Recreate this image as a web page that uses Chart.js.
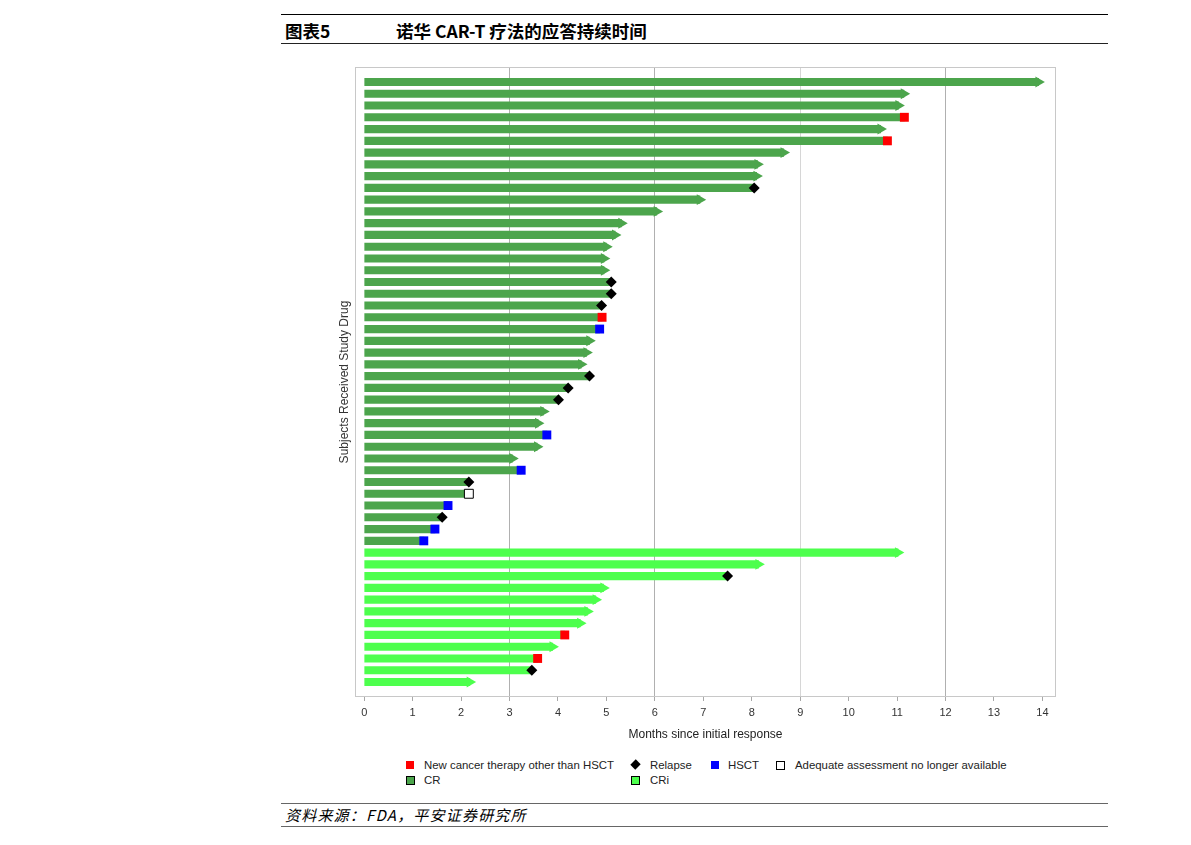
<!DOCTYPE html>
<html>
<head>
<meta charset="utf-8">
<script src="https://cdn.jsdelivr.net/npm/chart.js@4.4.1/dist/chart.umd.min.js"></script>
<style>
html,body{margin:0;padding:0;background:#fff;}
body{width:1191px;height:845px;position:relative;overflow:hidden;font-family:"Liberation Sans",Arial,sans-serif;}
.hline{position:absolute;left:281px;width:827px;height:0;}
.t{position:absolute;white-space:nowrap;}
.hd{font-family:"Noto Sans CJK SC",sans-serif;font-weight:bold;font-size:17.5px;line-height:24px;top:19px;color:#000;}
.src{font-family:"Noto Sans CJK SC",sans-serif;font-style:italic;font-size:15px;letter-spacing:1.2px;line-height:20px;top:805px;left:285px;color:#000;}
.lg{font-size:11.4px;line-height:14px;color:#222;}
.mk{position:absolute;box-sizing:border-box;}
#wrap{position:absolute;left:300px;top:55px;width:780px;height:700px;}
</style>
</head>
<body>
<div class="hline" style="top:14px;border-top:1px solid #000;"></div>
<div class="t hd" style="left:285px;">图表5</div>
<div class="t hd" style="left:396px;">诺华 CAR-T 疗法的应答持续时间</div>
<div class="hline" style="top:43px;border-top:1px solid #222;"></div>

<div id="wrap"><canvas id="c" width="780" height="700" style="width:780px;height:700px;"></canvas></div>

<!-- legend -->
<div class="mk" style="left:406px;top:761px;width:8px;height:8px;background:#ff0000;"></div>
<div class="t lg" style="left:424px;top:758px;">New cancer therapy other than HSCT</div>
<div class="mk" style="left:632px;top:761px;width:7px;height:7px;background:#000;transform:rotate(45deg) scaleY(1.1);"></div>
<div class="t lg" style="left:650px;top:758px;">Relapse</div>
<div class="mk" style="left:711px;top:761px;width:8px;height:8px;background:#0000ff;"></div>
<div class="t lg" style="left:728px;top:758px;">HSCT</div>
<div class="mk" style="left:776px;top:761px;width:9px;height:9px;background:#fff;border:1px solid #000;"></div>
<div class="t lg" style="left:795px;top:758px;">Adequate assessment no longer available</div>
<div class="mk" style="left:406px;top:776px;width:9px;height:9px;background:#4ca54c;border:1px solid #000;"></div>
<div class="t lg" style="left:424px;top:773px;">CR</div>
<div class="mk" style="left:631px;top:776px;width:9px;height:9px;background:#4dff4d;border:1px solid #000;"></div>
<div class="t lg" style="left:650px;top:773px;">CRi</div>

<div class="hline" style="top:803px;border-top:1.5px solid #666;"></div>
<div class="t src">资料来源：FDA，平安证券研究所</div>
<div class="hline" style="top:826px;border-top:1.5px solid #666;"></div>

<script>
// ---- data (months since initial response) ----
const xTicks = [0,1,2,3,4,5,6,7,8,9,10,11,12,13,14];

// CR subjects (top to bottom)
const crMonths = [13.92, 11.14, 11.03, 11.15, 10.66, 10.80, 8.66, 8.12, 8.10, 8.05,
                  6.93, 6.04, 5.31, 5.18, 5.00, 4.95, 4.95, 5.10, 5.10, 4.90,
                  4.91, 4.86, 4.65, 4.59, 4.48, 4.65, 4.21, 4.01, 3.70, 3.59,
                  3.77, 3.57, 3.06, 3.24, 2.16, 2.16, 1.73, 1.61, 1.46, 1.23];
const crEvents = ['ongoing','ongoing','ongoing','newtx','ongoing','newtx','ongoing','ongoing','ongoing','relapse',
                  'ongoing','ongoing','ongoing','ongoing','ongoing','ongoing','ongoing','relapse','relapse','relapse',
                  'newtx','hsct','ongoing','ongoing','ongoing','relapse','relapse','relapse','ongoing','ongoing',
                  'hsct','ongoing','ongoing','hsct','relapse','noassess','hsct','relapse','hsct','hsct'];

// CRi subjects (top to bottom)
const criMonths = [11.02, 8.14, 7.50, 4.94, 4.78, 4.61, 4.46, 4.14, 3.89, 3.58, 3.46, 2.18];
const criEvents = ['ongoing','ongoing','relapse','ongoing','ongoing','ongoing','ongoing','newtx','ongoing','newtx','relapse','ongoing'];

// ---- build rows ----
const rows = [];
crMonths.forEach((v,i)=>rows.push({v, ev:crEvents[i], grp:'CR', row:rows.length}));
criMonths.forEach((v,i)=>rows.push({v, ev:criEvents[i], grp:'CRi', row:rows.length}));
const nRows = rows.length;

function pts(filterFn){ return rows.filter(filterFn).map(r=>({x:r.v, y:r.row})); }

const CR_COLOR = '#4ca54c', CRI_COLOR = '#4dff4d';

const framePlugin = {
  id:'frame',
  beforeDatasetsDraw(chart){
    const {ctx, chartArea:a} = chart;
    ctx.save();
    ctx.strokeStyle = '#c8c8c8';
    ctx.lineWidth = 1;
    ctx.strokeRect(Math.round(a.left)+0.5, Math.round(a.top)+0.5, Math.round(a.right-a.left)-1, Math.round(a.bottom-a.top)-1);
    ctx.restore();
  }
};

const markerBase = {type:'scatter', showLine:false, order:1, borderWidth:0, pointHoverRadius:0, clip:false};

new Chart(document.getElementById('c'), {
  type:'bar',
  data:{
    datasets:[
      {type:'bar', label:'CR', indexAxis:'y', grouped:false, order:2,
       data: pts(r=>r.grp==='CR'), backgroundColor:CR_COLOR, barThickness:7.5, borderWidth:0},
      {type:'bar', label:'CRi', indexAxis:'y', grouped:false, order:2,
       data: pts(r=>r.grp==='CRi'), backgroundColor:CRI_COLOR, barThickness:7.5, borderWidth:0},
      Object.assign({}, markerBase, {label:'CR ongoing', data: pts(r=>r.grp==='CR'&&r.ev==='ongoing'),
        pointStyle:'triangle', pointRotation:90, pointRadius:6.3, backgroundColor:CR_COLOR, borderColor:CR_COLOR}),
      Object.assign({}, markerBase, {label:'CRi ongoing', data: pts(r=>r.grp==='CRi'&&r.ev==='ongoing'),
        pointStyle:'triangle', pointRotation:90, pointRadius:6.3, backgroundColor:CRI_COLOR, borderColor:CRI_COLOR}),
      Object.assign({}, markerBase, {label:'New cancer therapy other than HSCT', data: pts(r=>r.ev==='newtx'),
        pointStyle:'rect', pointRadius:6.3, backgroundColor:'#ff0000', borderColor:'#ff0000'}),
      Object.assign({}, markerBase, {label:'HSCT', data: pts(r=>r.ev==='hsct'),
        pointStyle:'rect', pointRadius:6.3, backgroundColor:'#0000ff', borderColor:'#0000ff'}),
      Object.assign({}, markerBase, {label:'Relapse', data: pts(r=>r.ev==='relapse'),
        pointStyle:'rectRot', pointRadius:5.5, backgroundColor:'#000000', borderColor:'#000000'}),
      Object.assign({}, markerBase, {label:'Adequate assessment no longer available', data: pts(r=>r.ev==='noassess'),
        pointStyle:'rect', pointRadius:6.3, backgroundColor:'#ffffff', borderColor:'#000000', borderWidth:1})
    ]
  },
  options:{
    responsive:false,
    animation:false,
    events:[],
    layout:{padding:{left:0, top:12, right:24, bottom:0}},
    plugins:{legend:{display:false}, tooltip:{enabled:false}},
    scales:{
      x:{
        type:'linear', position:'bottom', min:-0.19, max:14.28, offset:false,
        afterBuildTicks: s => { s.ticks = xTicks.map(v=>({value:v})); },
        afterFit: s => { s.height = 58; },
        grid:{
          offset:false, drawOnChartArea:true, drawTicks:true, tickLength:4, tickColor:'#a8a8a8', lineWidth:1,
          color: c => { const v = c.tick && c.tick.value; if (v===9) return '#d6d6d6'; if (v===3||v===6||v===12) return '#b0b0b0'; return 'rgba(0,0,0,0)'; }
        },
        border:{display:false},
        ticks:{padding:5, color:'#333', font:{family:'Liberation Sans', size:11}, maxRotation:0, autoSkip:false, includeBounds:false},
        title:{display:true, text:'Months since initial response', color:'#222', font:{family:'Liberation Sans', size:12}, padding:{top:0, bottom:13}}
      },
      y:{
        type:'linear', position:'left', reverse:true, min:-1.275, max:nRows - 1 + 1.275, offset:false,
        afterFit: s => { s.width = 55; },
        grid:{display:false, offset:false}, border:{display:false}, ticks:{display:false},
        title:{display:true, text:'Subjects Received Study Drug', color:'#333', font:{family:'Liberation Sans', size:12}, padding:{top:37, bottom:0}}
      }
    }
  },
  plugins:[framePlugin]
});
</script>
</body>
</html>
